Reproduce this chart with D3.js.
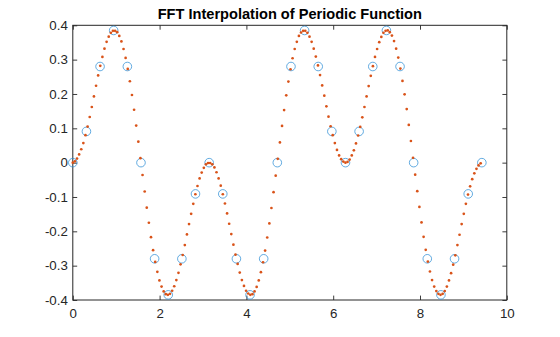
<!DOCTYPE html>
<html><head><meta charset="utf-8"><script src="https://cdn.jsdelivr.net/npm/d3@7"></script>
<style>body{margin:0;background:#fff}svg{display:block}</style></head><body>
<svg id="chart" width="560" height="337"></svg>
<script>
// Sample points (circles)
const sampleX = [0,0.314,0.628,0.942,1.257,1.571,1.885,2.199,2.513,2.827,3.142,3.456,3.770,4.084,4.398,4.712,5.027,5.341,5.655,5.969,6.283,6.597,6.912,7.226,7.540,7.854,8.168,8.482,8.796,9.111,9.425];
const sampleY = [0,0.091,0.280,0.385,0.280,0,-0.280,-0.385,-0.280,-0.091,0,-0.091,-0.280,-0.385,-0.280,0,0.280,0.385,0.280,0.091,0,0.091,0.280,0.385,0.280,0,-0.280,-0.385,-0.280,-0.091,0];

// Interpolated points (dots)
const interpX = [0,0.049,0.097,0.146,0.195,0.243,0.292,0.341,0.390,0.438,0.487,0.536,0.584,0.633,
0.682,0.730,0.779,0.828,0.877,0.925,0.974,1.023,1.071,1.120,1.169,1.217,1.266,1.315,
1.363,1.412,1.461,1.510,1.558,1.607,1.656,1.704,1.753,1.802,1.850,1.899,1.948,1.996,
2.045,2.094,2.143,2.191,2.240,2.289,2.337,2.386,2.435,2.483,2.532,2.581,2.630,2.678,
2.727,2.776,2.824,2.873,2.922,2.970,3.019,3.068,3.116,3.165,3.214,3.263,3.311,3.360,
3.409,3.457,3.506,3.555,3.603,3.652,3.701,3.749,3.798,3.847,3.896,3.944,3.993,4.042,
4.090,4.139,4.188,4.236,4.285,4.334,4.383,4.431,4.480,4.529,4.577,4.626,4.675,4.723,
4.772,4.821,4.869,4.918,4.967,5.016,5.064,5.113,5.162,5.210,5.259,5.308,5.356,5.405,
5.454,5.503,5.551,5.600,5.649,5.697,5.746,5.795,5.843,5.892,5.941,5.989,6.038,6.087,
6.136,6.184,6.233,6.282,6.330,6.379,6.428,6.476,6.525,6.574,6.623,6.671,6.720,6.769,
6.817,6.866,6.915,6.963,7.012,7.061,7.109,7.158,7.207,7.256,7.304,7.353,7.402,7.450,
7.499,7.548,7.596,7.645,7.694,7.742,7.791,7.840,7.889,7.937,7.986,8.035,8.083,8.132,
8.181,8.229,8.278,8.327,8.376,8.424,8.473,8.522,8.570,8.619,8.668,8.716,8.765,8.814,
8.862,8.911,8.960,9.009,9.057,9.106,9.155,9.203,9.252,9.301,9.349,9.398];
const interpY = [0,0.004,0.012,0.024,0.039,0.057,0.080,0.105,0.133,0.162,0.193,0.224,0.254,0.282,
0.308,0.332,0.352,0.367,0.378,0.384,0.384,0.380,0.369,0.353,0.331,0.305,0.273,0.237,
0.197,0.154,0.108,0.061,0.013,-0.036,-0.084,-0.131,-0.175,-0.217,-0.255,-0.289,-0.318,-0.343,
-0.361,-0.375,-0.383,-0.385,-0.382,-0.373,-0.360,-0.342,-0.321,-0.296,-0.269,-0.240,-0.209,-0.179,
-0.149,-0.120,-0.092,-0.068,-0.046,-0.029,-0.015,-0.005,-0.001,-0.001,-0.005,-0.014,-0.028,-0.046,
-0.067,-0.092,-0.119,-0.148,-0.178,-0.208,-0.239,-0.268,-0.295,-0.320,-0.342,-0.359,-0.373,-0.381,
-0.385,-0.383,-0.375,-0.362,-0.343,-0.319,-0.290,-0.256,-0.218,-0.177,-0.132,-0.086,-0.038,0.011,
0.059,0.107,0.153,0.196,0.236,0.272,0.304,0.331,0.352,0.369,0.379,0.384,0.384,0.378,
0.367,0.352,0.332,0.309,0.283,0.255,0.225,0.195,0.164,0.134,0.106,0.080,0.057,0.037,
0.021,0.010,0.003,0,0.002,0.009,0.021,0.036,0.056,0.079,0.104,0.132,0.162,0.193,
0.223,0.253,0.281,0.308,0.331,0.351,0.366,0.378,0.384,0.385,0.380,0.370,0.354,0.332,
0.306,0.274,0.238,0.199,0.156,0.110,0.063,0.014,-0.035,-0.083,-0.129,-0.174,-0.216,-0.254,
-0.288,-0.317,-0.342,-0.361,-0.374,-0.382,-0.385,-0.382,-0.374,-0.361,-0.343,-0.322,-0.297,-0.270,
-0.240,-0.210,-0.179,-0.149,-0.120,-0.093,-0.069,-0.048,-0.031,-0.018,-0.008,-0.002];

const xTicks = [0,2,4,6,8,10];
const yTicks = [-0.4,-0.3,-0.2,-0.1,0,0.1,0.2,0.3,0.4];
const titleText = "FFT Interpolation of Periodic Function";

const L = 72.8, R = 506.8, T = 25.3, B = 300;
const axisColor = "#262626";
const font = "'Liberation Sans', Arial, Helvetica, sans-serif";

const svg = d3.select("#chart");
const x = d3.scaleLinear().domain([0,10]).range([L,R]);
const y = d3.scaleLinear().domain([-0.4,0.4]).range([B,T]);

const fmt = d => d === 0 ? "0" : String(+d.toFixed(1));
const tk = 4.4;

function styleAxis(g, labels){
  g.select(".domain").remove();
  g.selectAll(".tick line").attr("stroke", axisColor).attr("stroke-width", 0.9);
  g.selectAll(".tick text").attr("fill", axisColor).attr("font-family", font).attr("font-size", 13.3);
  if(!labels) g.selectAll(".tick text").remove();
}

svg.append("g").attr("transform",`translate(0,${B})`)
  .call(d3.axisBottom(x).tickValues(xTicks).tickSize(-tk).tickPadding(9).tickFormat(fmt))
  .call(g=>styleAxis(g,true));
svg.append("g").attr("transform",`translate(0,${T})`)
  .call(d3.axisTop(x).tickValues(xTicks).tickSize(-tk))
  .call(g=>styleAxis(g,false));
svg.append("g").attr("transform",`translate(${L},0)`)
  .call(d3.axisLeft(y).tickValues(yTicks).tickSize(-tk).tickPadding(5).tickFormat(fmt))
  .call(g=>styleAxis(g,true));
svg.append("g").attr("transform",`translate(${R},0)`)
  .call(d3.axisRight(y).tickValues(yTicks).tickSize(-tk))
  .call(g=>styleAxis(g,false));

// box
svg.append("rect").attr("x",L).attr("y",T).attr("width",R-L).attr("height",B-T)
  .attr("fill","none").attr("stroke",axisColor).attr("stroke-width",1);

// sample circles
svg.append("g").selectAll("circle").data(sampleX.map((v,i)=>[v,sampleY[i]])).join("circle")
  .attr("cx",d=>x(d[0])).attr("cy",d=>y(d[1])).attr("r",4.3)
  .attr("fill","none").attr("stroke","#2f8fd6").attr("stroke-width",0.75);

// interpolated dots
svg.append("g").selectAll("circle").data(interpX.map((v,i)=>[v,interpY[i]])).join("circle")
  .attr("cx",d=>x(d[0])).attr("cy",d=>y(d[1])).attr("r",1.35)
  .attr("fill","#D95319");

svg.append("text").attr("x",(L+R)/2).attr("y",19).attr("text-anchor","middle")
  .attr("font-family",font).attr("font-weight","bold").attr("font-size",14.6)
  .attr("fill","#000").text(titleText);
</script></body></html>
